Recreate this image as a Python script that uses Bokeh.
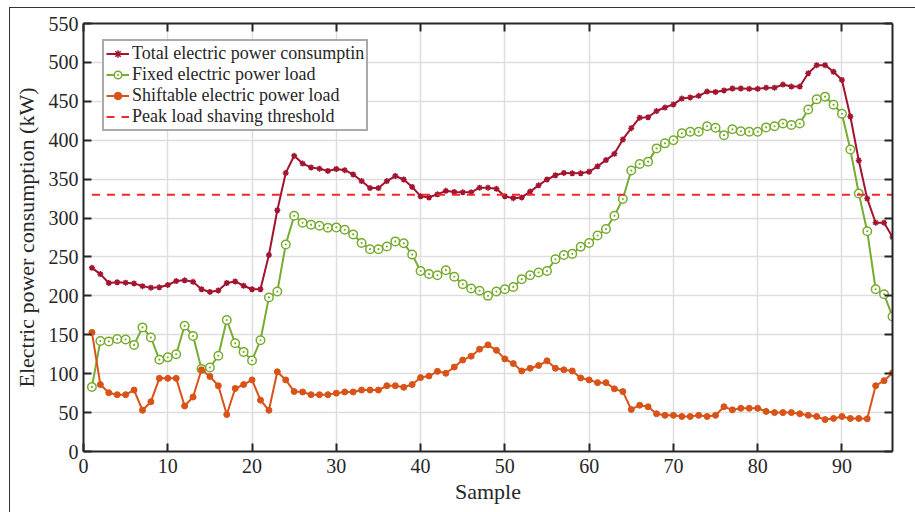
from bokeh.plotting import figure
from bokeh.models import (LinearAxis, FixedTicker, Legend, LegendItem,
                          Range1d, ColumnDataSource)
from bokeh.layouts import column
from bokeh.embed import file_html
from bokeh.resources import INLINE

# ---- data -------------------------------------------------------------
sample = list(range(1, 97))

fixed_load = [
    83, 142, 141.5, 144.5, 144, 137, 159.5, 146.5, 118, 121,
    125, 161.5, 148.5, 106, 108, 123, 169, 139, 128, 117,
    143, 198, 205.5, 266, 303, 294, 291.5, 290, 287.5, 288,
    285, 279, 268, 260, 260, 263.5, 270, 267.5, 253, 232,
    228, 226.5, 233, 224.5, 215, 209.5, 206.5, 200, 205.5, 208.5,
    211.5, 221.5, 226.5, 230, 232, 247, 252.5, 254, 263, 268,
    277.5, 286, 303, 324.5, 361, 369.5, 372.5, 389.5, 396, 400,
    409, 411, 411, 418, 416, 406.5, 414, 411.5, 411, 411,
    416.5, 418, 421.5, 419.5, 421.5, 439.5, 452.5, 456, 445.5, 434,
    388, 331.5, 283, 208.5, 202, 173.5,
]

shiftable_load = [
    153, 86, 75.5, 73, 73, 79, 53, 64, 94, 94,
    94, 58.5, 70, 105, 96.5, 84.5, 47.5, 81, 86, 92,
    66, 53, 102.5, 92, 77, 76.5, 73, 73, 73, 75,
    76.5, 76.5, 79, 79, 79, 84.5, 84.5, 82.5, 86, 95,
    97, 103, 100.5, 108.5, 117.5, 122.5, 131.5, 137, 130, 119,
    113, 103.5, 107, 110.5, 116.5, 107, 105, 103.5, 94.5, 92,
    88.5, 88.5, 80.5, 77, 54, 59.5, 57.5, 48.5, 46.5, 46.5,
    45, 45, 46.5, 45, 46.5, 57.5, 53.5, 55.5, 55.5, 55.5,
    51.5, 50, 50, 50, 48.5, 46.5, 45, 41, 42.5, 45,
    42.5, 42.5, 42, 84.5, 91, 101,
]

total_consumption = [
    236, 228, 216.5, 217.5, 217, 216, 212.5, 210.5, 211, 214,
    219, 220, 218, 208.5, 205, 207, 216.5, 218.5, 213, 208.5,
    208.5, 252.5, 310, 358, 380, 370, 365, 363.5, 360.5, 363,
    361.5, 356, 347.5, 338.5, 338.5, 347.5, 354, 349.5, 340, 328,
    326.5, 330.5, 335, 333.5, 333, 333, 339, 339, 337.5, 328,
    325.5, 326.5, 334, 342, 349.5, 355, 358, 357.5, 357.5, 359.5,
    366.5, 374.5, 382.5, 401, 415.5, 429, 429.5, 437.5, 442, 446,
    453.5, 455, 457, 462.5, 462, 464, 466.5, 466.5, 466, 466,
    467.5, 467.5, 471.5, 469, 469, 486, 496.5, 496.5, 488, 477.5,
    430.5, 374, 325, 294, 294, 275.5,
]

threshold = 330

x_ticks = [0, 10, 20, 30, 40, 50, 60, 70, 80, 90]
y_ticks = [0, 50, 100, 150, 200, 250, 300, 350, 400, 450, 500, 550]

series_names = [
    "Total electric power consumptin",
    "Fixed electric power load",
    "Shiftable electric power load",
    "Peak load shaving threshold",
]

# ---- styling ----------------------------------------------------------
FONT = "Liberation Serif"
TEXT = "#262626"
RED = "#A2142F"
GREEN = "#77AC30"
ORANGE = "#D95319"
DASH_RED = "#EE2A2A"

src = ColumnDataSource(dict(
    sample=sample,
    total=total_consumption,
    fixed=fixed_load,
    shift=shiftable_load,
))

p = figure(
    width=905, height=504,
    output_backend="svg", toolbar_location=None,
    x_range=Range1d(0, 96), y_range=Range1d(0, 550),
    min_border_left=73, min_border_right=23,
    min_border_top=15, min_border_bottom=61,
    x_axis_label="Sample",
    y_axis_label="Electric power consumption (kW)",
)
p.background_fill_color = "white"
p.border_fill_color = "white"
p.outline_line_color = None

# mirrored axes on top and right: tick marks only
p.add_layout(LinearAxis(), "above")
p.add_layout(LinearAxis(), "right")

for ax in p.xaxis:
    ax.ticker = FixedTicker(ticks=x_ticks)
for ax in p.yaxis:
    ax.ticker = FixedTicker(ticks=y_ticks)

for ax in p.axis:
    ax.axis_line_color = TEXT
    ax.axis_line_width = 2
    ax.major_tick_line_color = TEXT
    ax.major_tick_line_width = 2
    ax.major_tick_in = 8
    ax.major_tick_out = 0
    ax.minor_tick_line_color = None
    ax.major_label_text_font = FONT
    ax.major_label_text_font_size = "20px"
    ax.major_label_text_color = TEXT
    ax.axis_label_text_font = FONT
    ax.axis_label_text_font_size = "22px"
    ax.axis_label_text_font_style = "normal"
    ax.axis_label_text_color = TEXT

for ax in (p.above[0], p.right[0]):
    ax.major_label_text_color = None
    ax.major_label_standoff = 0

p.below[0].major_label_standoff = 7
p.left[0].major_label_standoff = 5
p.below[0].axis_label_standoff = 3
p.left[0].axis_label_standoff = 7

p.xgrid.ticker = FixedTicker(ticks=x_ticks)
p.ygrid.ticker = FixedTicker(ticks=y_ticks)
for g in (p.xgrid[0], p.ygrid[0]):
    g.grid_line_color = "#dedede"
    g.grid_line_width = 1.5

# ---- series -----------------------------------------------------------
r_tot_l = p.line("sample", "total", source=src, line_color=RED, line_width=2)
r_tot_m = p.scatter("sample", "total", source=src, marker="asterisk",
                    size=6, line_color=RED, line_width=1.5)

r_fix_l = p.line("sample", "fixed", source=src, line_color=GREEN, line_width=2)
r_fix_m = p.scatter("sample", "fixed", source=src, marker="circle_dot",
                    size=8.5, line_color=GREEN, fill_color="white", line_width=1.5)

r_sh_l = p.line("sample", "shift", source=src, line_color=ORANGE, line_width=2)
r_sh_m = p.scatter("sample", "shift", source=src, marker="circle",
                   size=6, line_color=ORANGE, fill_color=ORANGE)

r_thr = p.line(x=[sample[0], sample[-1]], y=[threshold, threshold],
               line_color=DASH_RED, line_width=2, line_dash="8 7")

legend = Legend(items=[
    LegendItem(label=series_names[0], renderers=[r_tot_l, r_tot_m]),
    LegendItem(label=series_names[1], renderers=[r_fix_l, r_fix_m]),
    LegendItem(label=series_names[2], renderers=[r_sh_l, r_sh_m]),
    LegendItem(label=series_names[3], renderers=[r_thr]),
])
legend.location = (19, 320)
legend.label_text_font = FONT
legend.label_text_font_size = "18px"
legend.label_text_color = TEXT
legend.label_height = 19
legend.label_standoff = 3
legend.glyph_width = 23
legend.glyph_height = 19
legend.spacing = 0
legend.padding = 2
legend.margin = 0
legend.border_line_color = "#555555"
legend.border_line_width = 2
legend.background_fill_color = "white"
legend.background_fill_alpha = 1
p.add_layout(legend)

page = column(p, styles={
    "margin-left": "9px",
    "margin-top": "7px",
    "border-left": "1px solid #333333",
    "border-top": "1px solid #333333",
})

open("out.html", "w").write(file_html(page, INLINE))
